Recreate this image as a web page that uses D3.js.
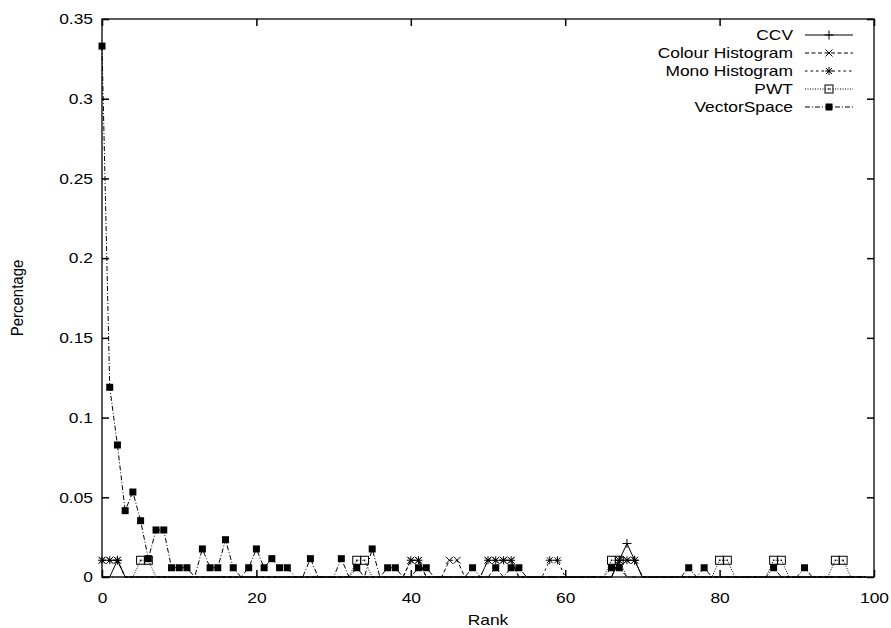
<!DOCTYPE html>
<html lang="en">
<head>
<meta charset="utf-8">
<title>Rank vs Percentage</title>
<script src="https://cdn.jsdelivr.net/npm/d3@7"></script>
<style>
  body { margin: 0; background: #fff; }
  text { font-family: "Liberation Sans", Arial, Helvetica, sans-serif; }
</style>
</head>
<body>
<script>
// rank categories 0..99
var ranks = [
   0, 1, 2, 3, 4, 5, 6, 7, 8, 9,
  10,11,12,13,14,15,16,17,18,19,
  20,21,22,23,24,25,26,27,28,29,
  30,31,32,33,34,35,36,37,38,39,
  40,41,42,43,44,45,46,47,48,49,
  50,51,52,53,54,55,56,57,58,59,
  60,61,62,63,64,65,66,67,68,69,
  70,71,72,73,74,75,76,77,78,79,
  80,81,82,83,84,85,86,87,88,89,
  90,91,92,93,94,95,96,97,98,99];

var ccv = [
  0,0,0.0105,0,0,0,0,0,0,0,
  0,0,0,0,0,0,0,0,0,0,
  0,0,0,0,0,0,0,0,0,0,
  0,0,0,0,0,0,0,0,0,0,
  0,0,0,0,0,0,0,0,0,0,
  0,0,0,0,0,0,0,0,0,0,
  0,0,0,0,0,0,0,0.0105,0.021,0.0105,
  0,0,0,0,0,0,0,0,0,0,
  0,0,0,0,0,0,0,0,0,0,
  0,0,0,0,0,0,0,0,0,0];

var colourHist = [
  0.0105,0.0105,0.0105,0,0,0,0,0,0,0,
  0,0,0,0,0,0,0,0,0,0,
  0,0,0,0,0,0,0,0,0,0,
  0,0,0,0,0,0,0,0,0,0,
  0.0105,0.0105,0,0,0,0.0105,0.0105,0,0,0,
  0.0105,0.0105,0.0105,0.0105,0,0,0,0,0,0,
  0,0,0,0,0,0,0,0.0105,0.0105,0.0105,
  0,0,0,0,0,0,0,0,0,0,
  0,0,0,0,0,0,0,0,0,0,
  0,0,0,0,0,0,0,0,0,0];

var monoHist = [
  0.0105,0.0105,0.0105,0,0,0,0,0,0,0,
  0,0,0,0,0,0,0,0,0,0,
  0,0,0,0,0,0,0,0,0,0,
  0,0,0,0,0,0,0,0,0,0,
  0.0105,0.0105,0,0,0,0,0,0,0,0,
  0.0105,0.0105,0.0105,0.0105,0,0,0,0,0.0105,0.0105,
  0,0,0,0,0,0,0,0.0105,0.0105,0.0105,
  0,0,0,0,0,0,0,0,0,0,
  0,0,0,0,0,0,0,0,0,0,
  0,0,0,0,0,0,0,0,0,0];

var pwt = [
  0,0,0,0,0,0.0105,0.0105,0,0,0,
  0,0,0,0,0,0,0,0,0,0,
  0,0,0,0,0,0,0,0,0,0,
  0,0,0,0.0105,0.0105,0,0,0,0,0,
  0,0,0,0,0,0,0,0,0,0,
  0,0,0,0,0,0,0,0,0,0,
  0,0,0,0,0,0,0.0105,0.0105,0,0,
  0,0,0,0,0,0,0,0,0,0,
  0.0105,0.0105,0,0,0,0,0,0.0105,0.0105,0,
  0,0,0,0,0,0.0105,0.0105,0,0,0];

var vectorSpace = [
  0.333,0.119,0.0828,0.0416,0.0533,0.0353,0.0115,0.0295,0.0295,0.0058,
  0.0058,0.0058,0,0.0176,0.0058,0.0058,0.0234,0.0058,0,0.0058,
  0.0176,0.0058,0.0115,0.0058,0.0058,0,0,0.0115,0,0,
  0,0.0115,0,0.0058,0,0.0176,0,0.0058,0.0058,0,
  0,0.0058,0.0058,0,0,0,0,0,0.0058,0,
  0,0.0058,0,0.0058,0.0058,0,0,0,0,0,
  0,0,0,0,0,0,0.0058,0.0058,0,0,
  0,0,0,0,0,0,0.0058,0,0.0058,0,
  0,0,0,0,0,0,0,0.0058,0,0,
  0,0.0058,0,0,0,0,0,0,0,0];

var xTicks = [0, 20, 40, 60, 80, 100];
var yTicks = [0, 0.05, 0.1, 0.15, 0.2, 0.25, 0.3, 0.35];

var series = [
  { name: "CCV", values: ccv, dash: null, marker: "plus" },
  { name: "Colour Histogram", values: colourHist, dash: "4,2.5", marker: "cross" },
  { name: "Mono Histogram", values: monoHist, dash: "2.5,3", marker: "star" },
  { name: "PWT", values: pwt, dash: "1,1.5", marker: "box" },
  { name: "VectorSpace", values: vectorSpace, dash: "5,2,1,2", marker: "fbox" }
];

var w = 891, h = 628;
var plotLeft = 102, plotRight = 874, plotTop = 19, plotBottom = 577;
var sx = 1.16;   // the reference text is a bit wider than it is tall
var fontSize = 15;

var x = d3.scaleLinear().domain([0, 100]).range([plotLeft, plotRight]);
var y = d3.scaleLinear().domain([0, 0.35]).range([plotBottom, plotTop]);

var svg = d3.select("body").append("svg")
  .attr("width", w)
  .attr("height", h);

function widen(sel) {
  sel.each(function() {
    var t = d3.select(this);
    var tx = +t.attr("x") || 0;
    t.attr("x", tx / sx).attr("transform", "scale(" + sx + ",1)");
  });
}

// axes, ticks inward on all four sides
var xAxis = d3.axisBottom(x).tickValues(xTicks).tickSize(-7).tickSizeOuter(0).tickPadding(15);
var xAxisTop = d3.axisTop(x).tickValues(xTicks).tickSize(-7).tickSizeOuter(0).tickFormat("");
var yAxis = d3.axisLeft(y).tickValues(yTicks).tickSize(-7).tickSizeOuter(0).tickPadding(9)
  .tickFormat(function(d) { return d3.format("")(+d.toFixed(2)); });
var yAxisRight = d3.axisRight(y).tickValues(yTicks).tickSize(-7).tickSizeOuter(0).tickFormat("");

var gx = svg.append("g").attr("transform", "translate(0," + plotBottom + ")").call(xAxis);
svg.append("g").attr("transform", "translate(0," + plotTop + ")").call(xAxisTop);
var gy = svg.append("g").attr("transform", "translate(" + plotLeft + ",0)").call(yAxis);
svg.append("g").attr("transform", "translate(" + plotRight + ",0)").call(yAxisRight);

svg.selectAll(".domain").remove();
svg.selectAll(".tick line").attr("stroke", "#000").attr("stroke-width", 1.5);
svg.selectAll(".tick text")
  .attr("font-size", fontSize)
  .attr("font-family", "Liberation Sans, Arial, sans-serif")
  .attr("fill", "#000");
widen(gx.selectAll(".tick text"));
widen(gy.selectAll(".tick text"));

// border
svg.append("rect")
  .attr("x", plotLeft).attr("y", plotTop)
  .attr("width", plotRight - plotLeft).attr("height", plotBottom - plotTop)
  .attr("fill", "none").attr("stroke", "#000").attr("stroke-width", 1.3);

// axis titles
svg.append("text")
  .attr("transform", "translate(" + ((plotLeft + plotRight) / 2) + ",625) scale(" + sx + ",1)")
  .attr("text-anchor", "middle")
  .attr("font-size", fontSize)
  .text("Rank");

svg.append("text")
  .attr("transform", "translate(23," + ((plotTop + plotBottom) / 2) + ") scale(" + sx + ",1) rotate(-90)")
  .attr("text-anchor", "middle")
  .attr("font-size", fontSize)
  .text("Percentage");

// markers
function drawMarker(g, type) {
  if (type === "plus") {
    g.append("path").attr("d", "M-4.5,0H4.5M0,-4.5V4.5")
      .attr("stroke", "#000").attr("stroke-width", 1).attr("fill", "none");
  } else if (type === "cross") {
    g.append("path").attr("d", "M-3.5,-3.5L3.5,3.5M-3.5,3.5L3.5,-3.5")
      .attr("stroke", "#000").attr("stroke-width", 1).attr("fill", "none");
  } else if (type === "star") {
    g.append("path").attr("d", "M-4,0H4M0,-4V4M-3,-3L3,3M-3,3L3,-3")
      .attr("stroke", "#000").attr("stroke-width", 1).attr("fill", "none");
  } else if (type === "box") {
    g.append("rect").attr("x", -4).attr("y", -4).attr("width", 8).attr("height", 8)
      .attr("stroke", "#000").attr("stroke-width", 1).attr("fill", "none");
    g.append("rect").attr("x", -0.7).attr("y", -0.7).attr("width", 1.4).attr("height", 1.4)
      .attr("fill", "#000");
  } else if (type === "fbox") {
    g.append("rect").attr("x", -3.5).attr("y", -3.5).attr("width", 7).attr("height", 7)
      .attr("fill", "#000");
  }
}

var line = d3.line()
  .x(function(d, i) { return x(ranks[i]); })
  .y(function(d) { return y(d); });

series.forEach(function(s) {
  var g = svg.append("g");
  g.append("path")
    .datum(s.values)
    .attr("d", line)
    .attr("fill", "none")
    .attr("stroke", "#000")
    .attr("stroke-width", 1)
    .attr("stroke-dasharray", s.dash);

  s.values.forEach(function(v, i) {
    if (v > 0) {
      var m = g.append("g").attr("transform", "translate(" + x(ranks[i]) + "," + y(v) + ")");
      drawMarker(m, s.marker);
    }
  });
});

// legend
var legend = svg.append("g");
series.forEach(function(s, i) {
  var ly = 35 + i * 18;
  legend.append("text")
    .attr("transform", "translate(793," + (ly + 5) + ") scale(" + sx + ",1)")
    .attr("text-anchor", "end")
    .attr("font-size", fontSize)
    .text(s.name);
  legend.append("line")
    .attr("x1", 805).attr("x2", 853).attr("y1", ly).attr("y2", ly)
    .attr("stroke", "#000").attr("stroke-width", 1)
    .attr("stroke-dasharray", s.dash);
  var m = legend.append("g").attr("transform", "translate(829," + ly + ")");
  drawMarker(m, s.marker);
});
</script>
</body>
</html>
